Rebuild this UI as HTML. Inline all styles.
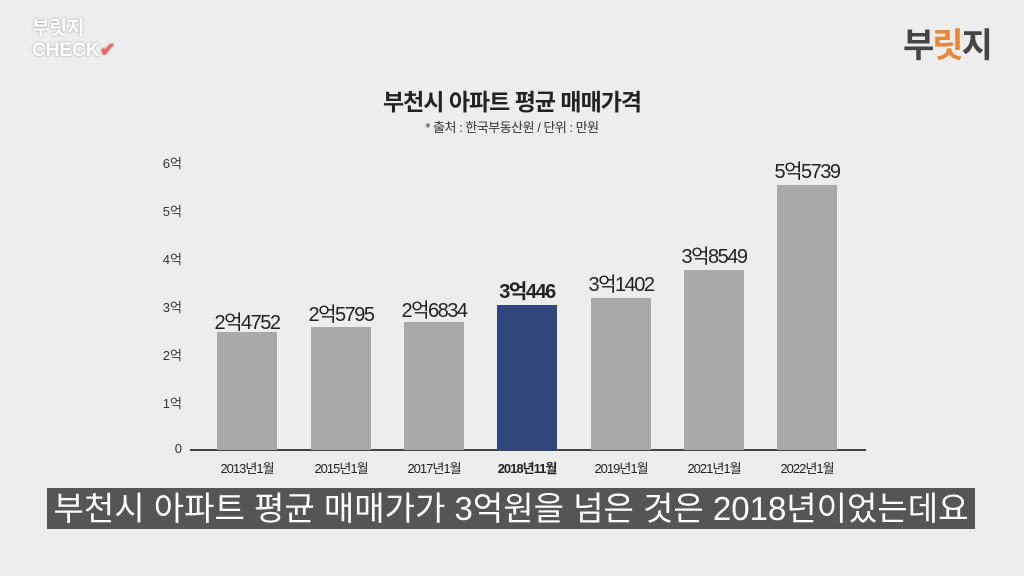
<!DOCTYPE html>
<html><head><meta charset="utf-8"><style>
body{margin:0;width:1024px;height:576px;background:#ededed;position:relative;overflow:hidden;font-family:"Liberation Sans","Noto Sans CJK KR",sans-serif;color:#222}
.a{position:absolute;white-space:nowrap}
.bar{position:absolute;width:60px;background:#a9a9a9;bottom:126px}
.yl{position:absolute;right:842px;font-size:13px;color:#333}
.xl{position:absolute;width:100px;text-align:center;top:458px;font-size:13px;letter-spacing:-1px;color:#222}
.vl{position:absolute;width:120px;text-align:center;font-size:20px;letter-spacing:-1.5px;color:#222}
</style></head><body>
<div class="a" style="left:32px;top:18px;font-size:19px;color:#fff;font-weight:bold;text-shadow:0 0 2px #999;line-height:22px">부릿지<br>CHECK<span style="color:#e66">✔</span></div>
<div class="a" style="left:903px;top:18px;font-size:34px;color:#444;font-weight:bold;letter-spacing:-2px">부<span style="color:#e8873a">릿</span>지</div>
<div class="a" style="left:0;width:1024px;text-align:center;top:83px;font-size:23px;font-weight:bold;color:#222;letter-spacing:-1px">부천시 아파트 평균 매매가격</div>
<div class="a" style="left:0;width:1024px;text-align:center;top:117px;font-size:13px;color:#333;letter-spacing:-0.5px">* 출처 : 한국부동산원 / 단위 : 만원</div>
<div class="yl" style="top:153px">6억</div><div class="yl" style="top:201px">5억</div><div class="yl" style="top:249px">4억</div><div class="yl" style="top:297px">3억</div><div class="yl" style="top:345px">2억</div><div class="yl" style="top:393px">1억</div><div class="yl" style="top:441px">0</div>
<div class="a" style="left:190px;top:449px;width:676px;height:2px;background:#444"></div>
<div class="bar" style="left:217px;height:118px"></div>
<div class="bar" style="left:311px;height:123px"></div>
<div class="bar" style="left:404px;height:128px"></div>
<div class="bar" style="left:497px;height:145px;background:#30477c"></div>
<div class="bar" style="left:591px;height:152px"></div>
<div class="bar" style="left:684px;height:180px"></div>
<div class="bar" style="left:777px;height:265px"></div>
<div class="vl" style="left:187px;top:306px">2억4752</div>
<div class="vl" style="left:281px;top:298px">2억5795</div>
<div class="vl" style="left:374px;top:294px">2억6834</div>
<div class="vl" style="left:467px;top:275px;font-weight:bold">3억446</div>
<div class="vl" style="left:561px;top:268px">3억1402</div>
<div class="vl" style="left:654px;top:240px">3억8549</div>
<div class="vl" style="left:747px;top:155px">5억5739</div>
<div class="xl" style="left:197px">2013년1월</div>
<div class="xl" style="left:291px">2015년1월</div>
<div class="xl" style="left:384px">2017년1월</div>
<div class="xl" style="left:477px;font-weight:bold">2018년11월</div>
<div class="xl" style="left:571px">2019년1월</div>
<div class="xl" style="left:664px">2021년1월</div>
<div class="xl" style="left:757px">2022년1월</div>
<div class="a" style="left:47px;top:488px;width:928px;height:41px;background:#555;color:#fff;font-size:33px;line-height:41px;text-align:center;letter-spacing:0px">부천시 아파트 평균 매매가가 3억원을 넘은 것은 2018년이었는데요</div>
</body></html>
